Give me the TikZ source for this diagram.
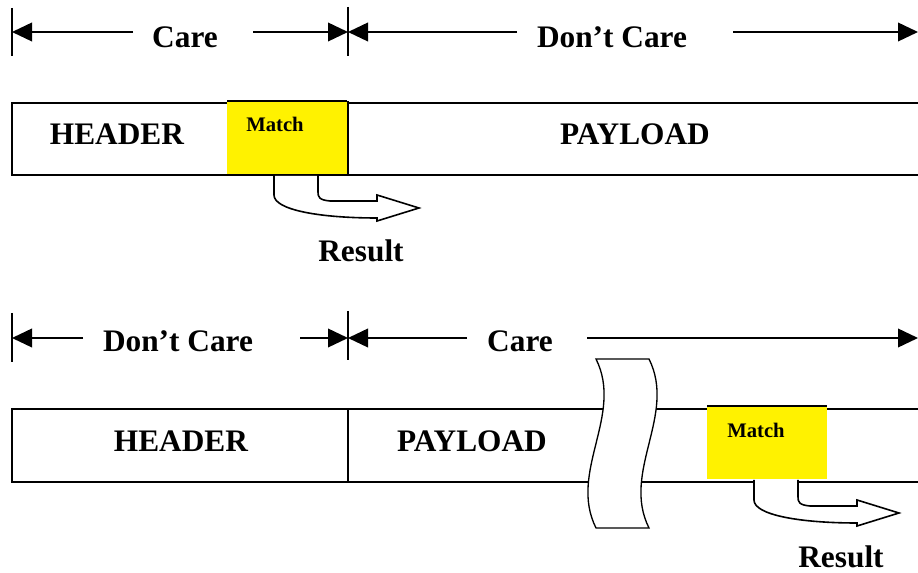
\documentclass[tikz,border=0pt]{standalone}
\usepackage{fontspec}
\setmainfont{Liberation Serif}
\usetikzlibrary{arrows.meta}

\begin{document}
\begin{tikzpicture}[x=0.75pt, y=-0.75pt, line width=1.2pt,
			>={Triangle[length=15pt, width=14pt]},
			lbl/.style={anchor=base, inner sep=0pt, font=\fontsize{23.5}{26}\selectfont\bfseries},
			matchlbl/.style={anchor=base, inner sep=0pt, font=\fontsize{15.5}{18}\selectfont\bfseries},
			tick/.style={line width=1pt},
			hit/.style={fill=yellow},
			bendarrow/.style={fill=white}]
			
			\useasboundingbox (0,0) rectangle (918,573);
			
			% --- Primo pacchetto ---
			% Quote
			\draw[tick] (12,8) -- (12,56);
			\draw[tick] (348,7) -- (348,56);
			\node[lbl] (care1) at (185,48) {Care};
			\node[lbl] (dont1) at (612,48) {Don’t Care};
			\coordinate (c1l) at (12,32);
			\coordinate (c1a) at (133,32);
			\coordinate (c1b) at (253,32);
			\coordinate (c1r) at (348,32);
			\coordinate (d1a) at (517,32);
			\coordinate (d1b) at (733,32);
			\coordinate (d1r) at (918,32);
			\draw[->] (c1a) -- (c1l);
			\draw[->] (c1b) -- (c1r);
			\draw[->] (d1a) -- (c1r);
			\draw[->] (d1b) -- (d1r);
			
			% Riquadro
			\draw (918,103) -- (12,103) -- (12,175) -- (918,175);
			\fill[yellow] (227,101) rectangle (347,174);
			\draw (227,101) -- (347,101);
			\draw (348,101) -- (348,175);
			\node[lbl] (head1) at (117,145) {HEADER};
			\node[matchlbl] (match1) at (275,132) {Match};
			\node[lbl] (pay1) at (635,145) {PAYLOAD};
			
			% Freccia del risultato
			\fill[bendarrow] (274,176) -- (274,195) .. controls (274,210) and (320,218) .. (377,218)
				-- (377,221) -- (419,208) -- (377,195) -- (377,201) -- (330,201)
				.. controls (319,200) and (318,197) .. (318,192) -- (318,176) -- cycle;
			\draw (274,175) -- (274,195) .. controls (274,210) and (320,218) .. (377,218)
				-- (377,221) -- (419,208) -- (377,195) -- (377,201) -- (330,201)
				.. controls (319,200) and (318,197) .. (318,192) -- (318,175);
			\node[lbl] (res1) at (361,262) {Result};
			
			% --- Secondo pacchetto ---
			% Quote
			\draw[tick] (12,313) -- (12,362);
			\draw[tick] (348,311) -- (348,360);
			\node[lbl] (dont2) at (178,352) {Don’t Care};
			\node[lbl] (care2) at (520,352) {Care};
			\coordinate (c2l) at (12,338);
			\coordinate (d2a) at (83,338);
			\coordinate (d2b) at (300,338);
			\coordinate (c2r) at (348,338);
			\coordinate (e2a) at (467,338);
			\coordinate (e2b) at (587,338);
			\coordinate (e2r) at (918,338);
			\draw[->] (d2a) -- (c2l);
			\draw[->] (d2b) -- (c2r);
			\draw[->] (e2a) -- (c2r);
			\draw[->] (e2b) -- (e2r);
			
			% Riquadro
			\draw (918,409) -- (12,409) -- (12,482) -- (918,482);
			\draw (348,409) -- (348,482);
			\node[lbl] (head2) at (181,452) {HEADER};
			\node[lbl] (pay2) at (472,452) {PAYLOAD};
			
			% Interruzione
			\filldraw[fill=white, line width=1pt] (596,359) -- (649,359)
				.. controls (677,415) and (621,472) .. (649,528) -- (596,528)
				.. controls (568,472) and (624,415) .. (596,359) -- cycle;
			
			\fill[yellow] (707,406) rectangle (827,479);
			\draw (707,406) -- (827,406);
			\node[matchlbl] (match2) at (756,438) {Match};
			
			% Freccia del risultato
			\begin{scope}[shift={(480,305)}]
				\fill[bendarrow] (274,176) -- (274,195) .. controls (274,210) and (320,218) .. (377,218)
					-- (377,221) -- (419,208) -- (377,195) -- (377,201) -- (330,201)
					.. controls (319,200) and (318,197) .. (318,192) -- (318,176) -- cycle;
				\draw (274,175) -- (274,195) .. controls (274,210) and (320,218) .. (377,218)
					-- (377,221) -- (419,208) -- (377,195) -- (377,201) -- (330,201)
					.. controls (319,200) and (318,197) .. (318,192) -- (318,175);
			\end{scope}
			\node[lbl] (res2) at (841,567) {Result};
		\end{tikzpicture}
\end{document}
